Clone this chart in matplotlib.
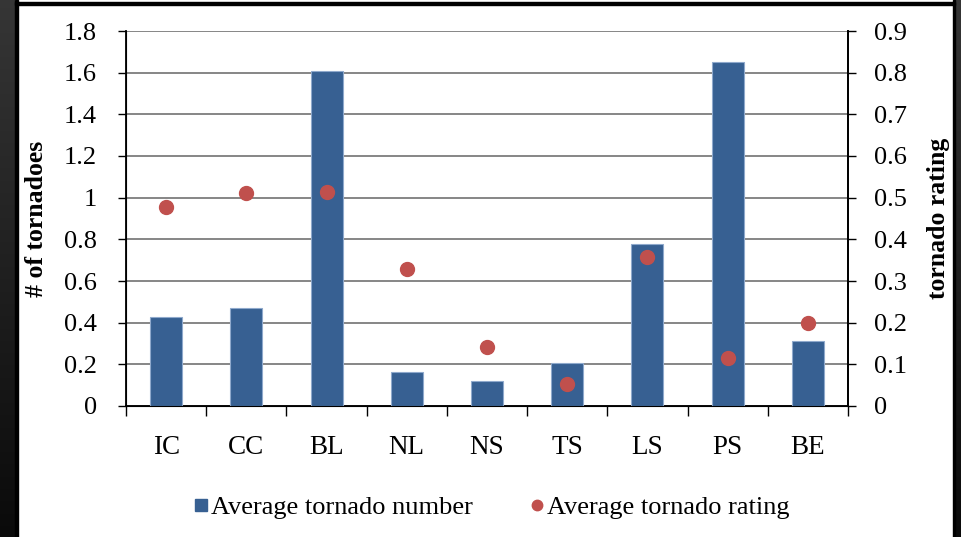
import numpy as np
import matplotlib
matplotlib.use("Agg")
import matplotlib.pyplot as plt
from matplotlib.lines import Line2D
from matplotlib.patches import Rectangle
from matplotlib.ticker import FuncFormatter, FixedLocator

categories = ["IC", "CC", "BL", "NL", "NS", "TS", "LS", "PS", "BE"]
avg_number = [0.425, 0.47, 1.61, 0.163, 0.12, 0.205, 0.776, 1.651, 0.31]
avg_rating = [0.477, 0.511, 0.514, 0.329, 0.142, 0.053, 0.357, 0.116, 0.200]

BAR_COLOR = "#376092"
DOT_COLOR = "#C0504D"
GRID_COLOR = "#868686"

plt.rcParams["font.family"] = ["Liberation Serif", "DejaVu Serif"]

fig = plt.figure(figsize=(9.61, 5.37), dpi=100)
fig.patch.set_facecolor("white")

# dark frame around the slide area
bg = fig.add_axes([0, 0, 1, 1], zorder=-10)
bg.set_axis_off()
grad = np.linspace(0.21, 0.04, 256).reshape(-1, 1)
bg.imshow(np.dstack([grad, grad, grad]), extent=[0, 15 / 961, 0, 1],
          aspect="auto", origin="upper", transform=bg.transAxes)
bg.imshow(np.dstack([grad, grad, grad]), extent=[955 / 961, 1, 0, 1],
          aspect="auto", origin="upper", transform=bg.transAxes)
bg.add_patch(Rectangle((15 / 961, 0), 2.5 / 961, 1, color="black",
                       transform=bg.transAxes))
bg.add_patch(Rectangle((952.5 / 961, 0), 2.5 / 961, 1, color="black",
                       transform=bg.transAxes))
bg.add_patch(Rectangle((15 / 961, 1 - 4.5 / 537), 940 / 961, 2.5 / 537,
                       color="black", transform=bg.transAxes))
bg.set_xlim(0, 1)
bg.set_ylim(0, 1)

ax = fig.add_axes([126 / 961, 1 - 406 / 537, (848 - 126) / 961, (406 - 31) / 537])
x = np.arange(len(categories))

ax.bar(x, avg_number, width=0.4, color=BAR_COLOR, edgecolor="#8FA9CC",
       linewidth=0.8, zorder=3)
ax.set_xlim(-0.5, len(categories) - 0.5)
ax.set_ylim(0, 1.8)
ax.set_yticks(np.arange(0, 1.81, 0.2))
fmt = FuncFormatter(lambda v, p: "%g" % round(v, 2))
ax.yaxis.set_major_formatter(fmt)
ax.yaxis.grid(True, color=GRID_COLOR, linewidth=1.4, zorder=0)
ax.set_axisbelow(True)

ax.set_xticks(x)
ax.set_xticklabels(categories)
ax.xaxis.set_minor_locator(FixedLocator(np.arange(-0.5, len(categories), 1.0)))
ax.tick_params(axis="x", which="major", length=0, pad=21, labelsize=19.5)
ax.tick_params(axis="x", which="minor", length=7, width=1, direction="out")
ax.tick_params(axis="y", length=6, width=1, direction="out", pad=15, labelsize=19)

ax.spines["top"].set_visible(False)
for side in ["left", "bottom", "right"]:
    ax.spines[side].set_linewidth(1.3)
    ax.spines[side].set_color("black")

ax.set_ylabel("# of tornadoes", fontsize=18.5, fontweight="bold")
ax.yaxis.set_label_coords((48 - 126) / 722, 0.5)

ax2 = ax.twinx()
ax2.plot(x, avg_rating, linestyle="none", marker="o", markersize=10,
         color=DOT_COLOR, zorder=4)
ax2.set_ylim(0, 0.9)
ax2.set_yticks(np.arange(0, 0.91, 0.1))
ax2.yaxis.set_major_formatter(fmt)
ax2.tick_params(axis="y", length=6, width=1, direction="out", pad=13, labelsize=19)
ax2.spines["top"].set_visible(False)
ax2.spines["right"].set_linewidth(1.3)
ax2.set_ylabel("tornado rating", fontsize=18.5, fontweight="bold")
ax2.yaxis.set_label_coords((927 - 126) / 722, 0.5)

handles = [
    Line2D([], [], linestyle="none", marker="s", markersize=9,
           color=BAR_COLOR, label="Average tornado number"),
    Line2D([], [], linestyle="none", marker="o", markersize=7.5,
           color=DOT_COLOR, label="Average tornado rating"),
]
fig.legend(handles=handles, loc="center", bbox_to_anchor=(490 / 961, 1 - 507 / 537),
           ncol=2, frameon=False, fontsize=19, handletextpad=0.0,
           columnspacing=2.0, handlelength=0.8)

fig.savefig("out.png", dpi=100)
